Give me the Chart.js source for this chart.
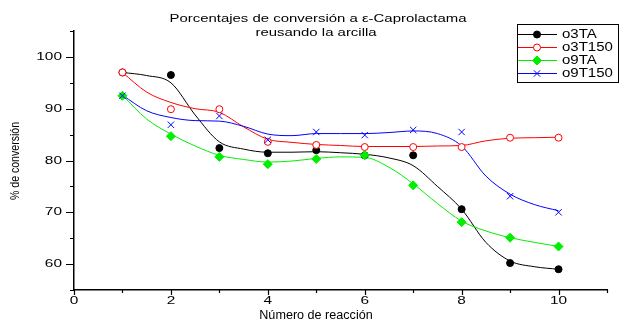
<!DOCTYPE html>
<html>
<head>
<meta charset="utf-8">
<script src="https://cdn.jsdelivr.net/npm/chart.js@4/dist/chart.umd.min.js"></script>
<style>
  html, body { margin: 0; background: #fff; }
</style>
</head>
<body>
<canvas id="chart" width="622" height="322"></canvas>
<script>
// measured points (reaction number 1..10)
const runs = [1, 2, 3, 4, 5, 6, 7, 8, 9, 10];
const o3TA   = [97.0, 96.5, 82.4, 81.4, 82.0, 81.0, 81.0, 70.6, 60.2, 59.0];
const o3T150 = [97.0, 89.9, 89.9, 83.6, 83.0, 82.6, 82.6, 82.6, 84.4, 84.4];
const o9TA   = [92.5, 84.7, 80.7, 79.3, 80.3, 81.0, 75.2, 68.1, 65.1, 63.4];
const o9T150 = [92.5, 86.9, 88.6, 84.0, 85.5, 84.9, 85.9, 85.5, 73.1, 70.0];

// smoothed fit curves, every half step
const fitX = [1, 1.5, 2, 2.5, 3, 3.5, 4, 4.5, 5, 5.5, 6, 6.5, 7, 7.5, 8, 8.5, 9, 9.5, 10];
const fit_o3TA   = [97.0, 96.4, 95.0, 88.8, 83.6, 82.2, 81.6, 81.6, 81.7, 81.5, 81.2, 80.5, 79.0, 75.0, 70.6, 64.2, 60.6, 59.5, 59.0];
const fit_o3T150 = [97.0, 93.2, 91.2, 90.0, 89.3, 86.5, 84.1, 83.5, 83.1, 82.9, 82.7, 82.7, 82.7, 82.8, 82.9, 83.8, 84.3, 84.4, 84.5];
const fit_o9TA   = [92.6, 88.0, 85.1, 82.8, 81.0, 80.2, 79.7, 79.9, 80.4, 80.7, 80.6, 78.7, 75.5, 71.7, 68.3, 66.4, 65.1, 64.2, 63.4];
const fit_o9T150 = [92.6, 89.6, 88.3, 87.7, 87.6, 86.6, 85.1, 84.8, 85.2, 85.2, 85.2, 85.4, 85.7, 85.2, 82.8, 77.0, 73.5, 71.5, 70.3];

const xTickLabels = [0, 2, 4, 6, 8, 10];
const yTickLabels = [60, 70, 80, 90, 100];

const series = [
  { name: 'o3TA',   pts: o3TA,   fit: fit_o3TA,   color: '#000000', style: 'circle',   r: 3.5, fill: '#000000' },
  { name: 'o3T150', pts: o3T150, fit: fit_o3T150, color: '#ff0000', style: 'circle',   r: 3.5, fill: '#ffffff' },
  { name: 'o9TA',   pts: o9TA,   fit: fit_o9TA,   color: '#00ee00', style: 'rectRot',  r: 4.5, fill: '#00ee00' },
  { name: 'o9T150', pts: o9T150, fit: fit_o9T150, color: '#0000ff', style: 'crossRot', r: 4.5, fill: '#0000ff' }
];

const datasets = [];
series.forEach((s, i) => {
  datasets.push({
    label: s.name + ' fit',
    data: fitX.map((x, j) => ({ x: x, y: s.fit[j] })),
    showLine: true,
    borderColor: s.color,
    borderWidth: 1,
    pointRadius: 0,
    cubicInterpolationMode: 'monotone',
    order: 20 - i
  });
  datasets.push({
    label: s.name,
    data: runs.map((x, j) => ({ x: x, y: s.pts[j] })),
    showLine: false,
    pointStyle: s.style,
    pointRadius: s.r,
    pointBorderWidth: 1,
    pointBorderColor: s.color,
    pointBackgroundColor: s.fill,
    order: 10 - i
  });
});

function stretchText(ctx, text, x, y, font, sx, align) {
  ctx.save();
  ctx.font = font;
  ctx.textBaseline = 'middle';
  ctx.textAlign = 'left';
  const w = ctx.measureText(text).width * sx;
  const left = align === 'center' ? x - w / 2 : align === 'right' ? x - w : x;
  ctx.translate(left, y);
  ctx.scale(sx, 1);
  ctx.fillText(text, 0, 0);
  ctx.restore();
}

const decor = {
  id: 'decor',
  afterDraw(chart) {
    const ctx = chart.ctx;
    const xs = chart.scales.x, ys = chart.scales.y;
    const area = chart.chartArea;
    ctx.save();
    ctx.fillStyle = '#000';
    ctx.strokeStyle = '#000';
    ctx.lineWidth = 1.2;

    // axis ticks
    ctx.beginPath();
    for (let v = 0; v <= 11; v++) {
      const px = Math.round(xs.getPixelForValue(v)) + 0.5;
      const len = v % 2 === 0 ? 5 : 3;
      ctx.moveTo(px, area.bottom);
      ctx.lineTo(px, area.bottom + len);
    }
    for (let v = 55; v <= 105; v += 5) {
      const py = Math.round(ys.getPixelForValue(v)) + 0.5;
      const len = v % 10 === 0 ? 8 : 4;
      ctx.moveTo(area.left, py);
      ctx.lineTo(area.left - len, py);
    }
    ctx.stroke();

    // tick labels
    const tickFont = '11px "Liberation Sans", Arial, sans-serif';
    xTickLabels.forEach(v => {
      stretchText(ctx, String(v), xs.getPixelForValue(v), 301, tickFont, 1.4, 'center');
    });
    yTickLabels.forEach(v => {
      stretchText(ctx, String(v), 62, ys.getPixelForValue(v), tickFont, 1.4, 'right');
    });

    // titles
    const tFont = '11px "Liberation Sans", Arial, sans-serif';
    ctx.font = tFont;
    const line1 = 'Porcentajes de conversión a ε-Caprolactama';
    const sx = 297 / ctx.measureText(line1).width;
    stretchText(ctx, line1, 318, 19, tFont, sx, 'center');
    stretchText(ctx, 'reusando la arcilla', 316, 33, tFont, sx, 'center');
    stretchText(ctx, 'Número de reacción', 316, 316, '12px "Liberation Sans", Arial, sans-serif', 1.05, 'center');

    ctx.save();
    ctx.translate(16, 161);
    ctx.rotate(-Math.PI / 2);
    stretchText(ctx, '% de conversión', 0, 0, '12px "Liberation Sans", Arial, sans-serif', 0.88, 'center');
    ctx.restore();

    // legend
    ctx.fillStyle = '#fff';
    ctx.fillRect(517.5, 24.5, 101, 58);
    ctx.lineWidth = 1;
    ctx.strokeRect(517.5, 24.5, 101, 58);
    const rows = [34, 47, 60, 73];
    series.forEach((s, i) => {
      const y = rows[i];
      ctx.strokeStyle = s.color;
      ctx.lineWidth = 1;
      ctx.beginPath();
      ctx.moveTo(518, y + 0.5);
      ctx.lineTo(557, y + 0.5);
      ctx.stroke();
      ctx.fillStyle = s.fill;
      Chart.helpers.drawPoint(ctx, { pointStyle: s.style, radius: s.r, borderWidth: 1, rotation: 0 }, 537, y + 0.5);
      ctx.fillStyle = '#000';
      stretchText(ctx, s.name, 562, y + 0.5, '12px "Liberation Sans", Arial, sans-serif', 1.25, 'left');
    });
    ctx.restore();
  }
};

new Chart(document.getElementById('chart'), {
  type: 'scatter',
  data: { datasets: datasets },
  options: {
    responsive: false,
    animation: false,
    layout: { padding: { top: 31, right: 15, left: 0, bottom: 0 } },
    plugins: { legend: { display: false }, tooltip: { enabled: false } },
    scales: {
      x: {
        type: 'linear', min: 0, max: 11,
        ticks: { display: false },
        grid: { display: false },
        border: { display: true, color: '#000', width: 1.5 },
        afterFit: s => { s.height = 32; }
      },
      y: {
        type: 'linear', min: 55, max: 105,
        ticks: { display: false },
        grid: { display: false },
        border: { display: true, color: '#000', width: 1.5 },
        afterFit: s => { s.width = 74; }
      }
    }
  },
  plugins: [decor]
});
</script>
</body>
</html>
